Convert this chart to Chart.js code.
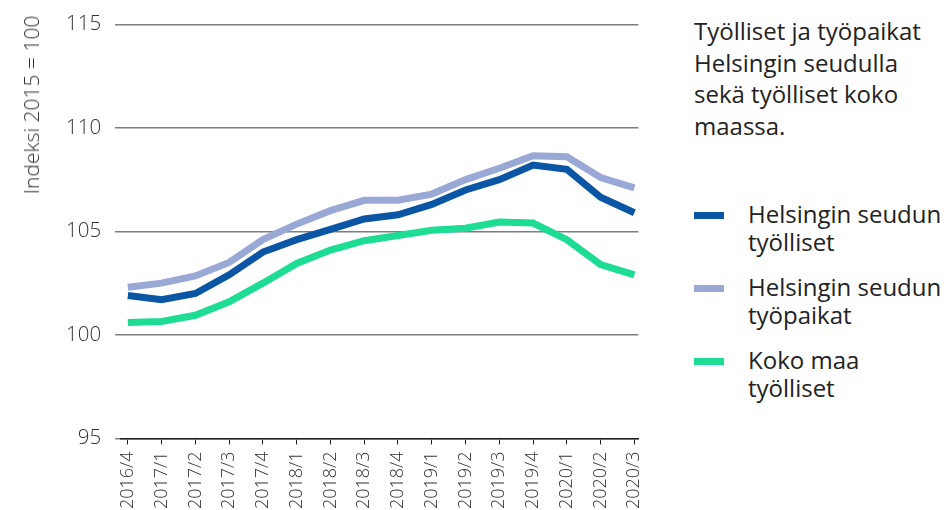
<!DOCTYPE html>
<html>
<head>
<meta charset="utf-8">
<script src="https://cdn.jsdelivr.net/npm/chart.js@4"></script>
<style>
  body { margin: 0; background: #fff; font-family: "Open Sans", sans-serif; color: #222; }
  #wrap { position: relative; width: 951px; height: 510px; overflow: hidden; }
  #box { position: absolute; left: 0; top: 0; width: 663px; height: 516px; }
  #ytitle { position: absolute; left: 31px; top: 105px; transform: translate(-50%, -50%) rotate(-90deg);
    white-space: nowrap; font-size: 21px; font-weight: 300; color: #333; }
  #side { position: absolute; left: 694px; top: 15px; width: 250px; }
  #side h2 { margin: 0; font-size: 24px; font-weight: 400; line-height: 31.5px; width: 245px; }
  .item { position: relative; padding-left: 54px; font-size: 24px; line-height: 28px; margin-top: 17px; white-space: nowrap; }
  .item span { position: absolute; left: 0; top: 12px; width: 30px; height: 7px; }
</style>
</head>
<body>
<div id="wrap">
  <div id="box"><canvas id="line-chart"></canvas></div>
  <div id="ytitle">Indeksi 2015 = 100</div>
  <div id="side">
    <h2>Työlliset ja työpaikat Helsingin seudulla sekä työlliset koko maassa.</h2>
    <div id="legend" style="margin-top:59px"></div>
  </div>
</div>
<script>
const quarters = ['2016/4', '2017/1', '2017/2', '2017/3', '2017/4', '2018/1', '2018/2', '2018/3',
  '2018/4', '2019/1', '2019/2', '2019/3', '2019/4', '2020/1', '2020/2', '2020/3'];
const helsinkiEmployed = [101.9, 101.7, 102.0, 102.9, 104.0, 104.6, 105.1, 105.6,
  105.8, 106.3, 107.0, 107.5, 108.2, 108.0, 106.65, 105.9];
const helsinkiJobs = [102.3, 102.5, 102.85, 103.5, 104.6, 105.35, 106.0, 106.5,
  106.5, 106.8, 107.5, 108.05, 108.65, 108.6, 107.6, 107.1];
const finlandEmployed = [100.6, 100.65, 100.95, 101.6, 102.5, 103.45, 104.1, 104.55,
  104.8, 105.05, 105.15, 105.45, 105.4, 104.6, 103.4, 102.9];
const yTicks = [95, 100, 105, 110, 115];

const series = [
  { label: 'Helsingin seudun työlliset', data: helsinkiEmployed, color: '#0a56a4' },
  { label: 'Helsingin seudun työpaikat', data: helsinkiJobs, color: '#9aa8d6' },
  { label: 'Koko maa työlliset', data: finlandEmployed, color: '#1ddc93' }
];

const legend = document.getElementById('legend');
series.forEach(function (s, i) {
  var words = s.label.split(' ');
  var last = words.pop();
  var div = document.createElement('div');
  div.className = 'item';
  if (i === 0) div.style.marginTop = '0';
  div.innerHTML = '<span style="background:' + s.color + '"></span>' + words.join(' ') + '<br>' + last;
  legend.appendChild(div);
});

var ctx = document.getElementById('line-chart');
var chartGraph = new Chart(ctx, {
  type: 'line',
  data: {
    datasets: series.map(function (s) {
      return {
        label: s.label,
        data: s.data.map(function (v, i) { return { x: i, y: v }; }),
        borderColor: s.color,
        borderWidth: 7,
        pointRadius: 0,
        tension: 0,
        fill: false
      };
    })
  },
  options: {
    animation: false,
    responsive: true,
    maintainAspectRatio: false,
    layout: { padding: { top: 0, right: 4, left: 52, bottom: 0 } },
    plugins: { legend: { display: false }, tooltip: { enabled: false } },
    scales: {
      x: {
        type: 'linear',
        min: -0.2,
        max: 15.12,
        afterBuildTicks: function (axis) {
          axis.ticks = quarters.map(function (q, i) { return { value: i }; });
        },
        grid: { display: true, drawOnChartArea: false, drawTicks: true, tickLength: 6, tickColor: '#222', tickWidth: 1 },
        border: { display: true, color: '#222', width: 1.5 },
        ticks: {
          callback: function (v) { return quarters[v]; },
          maxRotation: 90, minRotation: 90,
          autoSkip: false,
          color: '#333',
          font: { family: 'Open Sans', size: 18, weight: 300 },
          padding: 7
        }
      },
      y: {
        min: 95, max: 115,
        afterBuildTicks: function (axis) {
          axis.ticks = yTicks.map(function (v) { return { value: v }; });
        },
        grid: { color: '#7d7d7d', lineWidth: 1.5, tickLength: 6, tickColor: '#7d7d7d' },
        border: { display: false },
        ticks: {
          color: '#333',
          font: { family: 'Open Sans', size: 20.5, weight: 300, lineHeight: 1 },
          padding: 14
        }
      }
    }
  }
});
</script>
</body>
</html>
